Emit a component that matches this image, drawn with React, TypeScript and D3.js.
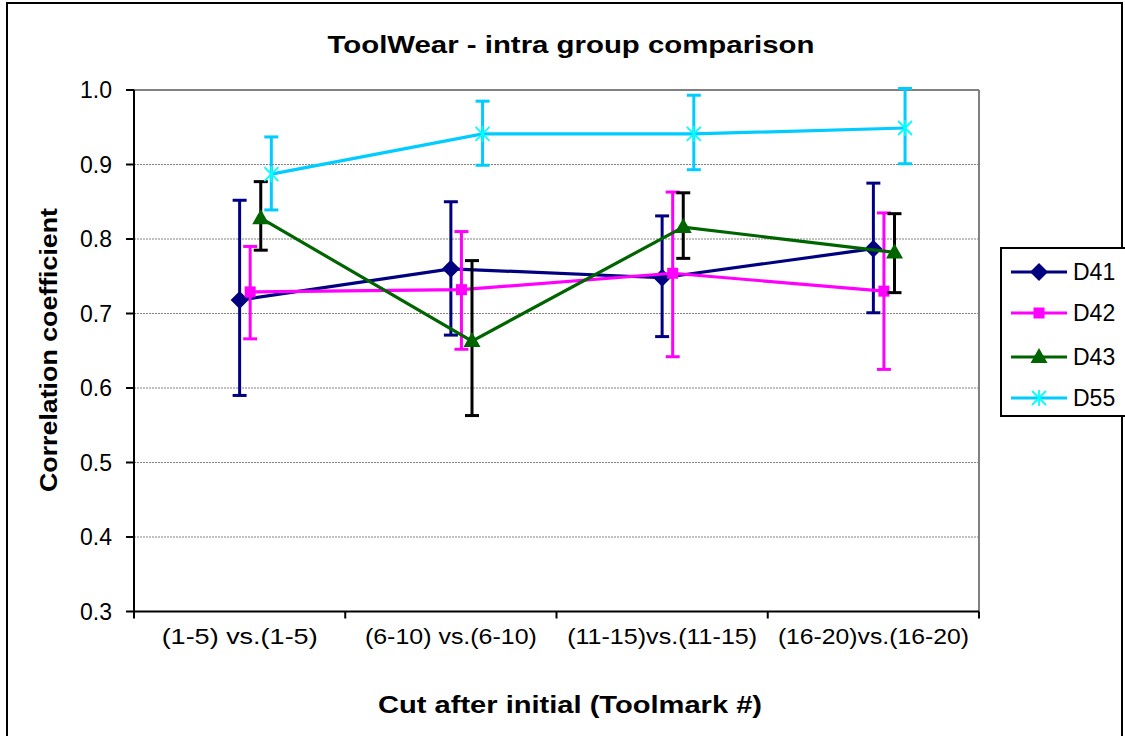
import React from "react";
import * as d3 from "d3";

const categories = ["(1-5) vs.(1-5)", "(6-10) vs.(6-10)", "(11-15)vs.(11-15)", "(16-20)vs.(16-20)"];
const seriesNames = ["D41", "D42", "D43", "D55"];
const d41 = [0.718, 0.76, 0.748, 0.787];
const d41Lo = [0.59, 0.671, 0.669, 0.701];
const d41Hi = [0.852, 0.85, 0.831, 0.875];
const d42 = [0.729, 0.732, 0.754, 0.73];
const d42Lo = [0.666, 0.652, 0.642, 0.625];
const d42Hi = [0.79, 0.81, 0.863, 0.835];
const d43 = [0.828, 0.663, 0.816, 0.782];
const d43Lo = [0.785, 0.563, 0.774, 0.728];
const d43Hi = [0.877, 0.771, 0.862, 0.834];
const d55 = [0.887, 0.941, 0.941, 0.949];
const d55Lo = [0.839, 0.899, 0.893, 0.901];
const d55Hi = [0.937, 0.985, 0.993, 1.002];
const yTicks = [0.3, 0.4, 0.5, 0.6, 0.7, 0.8, 0.9, 1.0];

const series = [
  { name: seriesNames[0], v: d41, lo: d41Lo, hi: d41Hi, color: "#000080", err: "#000080", marker: "diamond", mcolor: "#000080" },
  { name: seriesNames[1], v: d42, lo: d42Lo, hi: d42Hi, color: "#FF00FF", err: "#FF00FF", marker: "square", mcolor: "#FF00FF" },
  { name: seriesNames[2], v: d43, lo: d43Lo, hi: d43Hi, color: "#006400", err: "#000000", marker: "triangle", mcolor: "#006400" },
  { name: seriesNames[3], v: d55, lo: d55Lo, hi: d55Hi, color: "#00CCFF", err: "#00CCFF", marker: "star", mcolor: "#00FFFF" },
];

const FONT = "'Liberation Sans', Arial, Helvetica, sans-serif";

function Marker({ type, x, y, color }: { type: string; x: number; y: number; color: string }) {
  if (type === "diamond") {
    const s = 9;
    return <path d={`M${x},${y - s}L${x + s},${y}L${x},${y + s}L${x - s},${y}Z`} fill={color} />;
  }
  if (type === "square") {
    const s = 5.5;
    return <rect x={x - s} y={y - s} width={2 * s} height={2 * s} fill={color} />;
  }
  if (type === "triangle") {
    const w = 8.5, h = 15;
    return <path d={`M${x},${y - h * 0.6}L${x + w},${y + h * 0.4}L${x - w},${y + h * 0.4}Z`} fill={color} />;
  }
  const s = 7;
  return (
    <g stroke={color} strokeWidth={1.8}>
      <line x1={x - s} y1={y - s} x2={x + s} y2={y + s} />
      <line x1={x - s} y1={y + s} x2={x + s} y2={y - s} />
      <line x1={x} y1={y - s - 1} x2={x} y2={y + s + 1} />
    </g>
  );
}

export default function App() {
  const W = 1125, H = 736;
  const left = 134, right = 979, top = 90, bottom = 611.5;
  const x = d3.scaleLinear().domain([0, categories.length]).range([left, right]);
  const y = d3.scaleLinear().domain([0.3, 1.0]).range([bottom, top]);
  const off = 0.05;
  const px = (i: number, s: number) => x(i + 0.5 + s * off);
  const line = d3.line<[number, number]>().x((d) => d[0]).y((d) => d[1]);
  const labelWidths = [156, 172, 190, 191];

  return (
    <svg width={W} height={H} style={{ position: "absolute", left: 0, top: 0, background: "#fff" }} fontFamily={FONT}>
      <rect x={0} y={0} width={W} height={H} fill="#fff" />
      <rect x={7} y={3} width={1115} height={800} fill="none" stroke="#000" strokeWidth={2} />
      {yTicks.slice(1, -1).map((t) => (
        <line key={t} x1={left} x2={right} y1={y(t)} y2={y(t)} stroke="#808080" strokeWidth={1} strokeDasharray="2,1" />
      ))}
      <line x1={left} x2={right} y1={top} y2={top} stroke="#808080" strokeWidth={2} />
      <line x1={right} x2={right} y1={top} y2={bottom} stroke="#808080" strokeWidth={2} />
      <line x1={left} x2={left} y1={top} y2={bottom} stroke="#000" strokeWidth={2} />
      <line x1={left} x2={right} y1={bottom} y2={bottom} stroke="#000" strokeWidth={2} />
      {yTicks.map((t) => (
        <g key={t}>
          <line x1={left - 8} x2={left} y1={y(t)} y2={y(t)} stroke="#000" strokeWidth={2} />
          <text x={112} y={y(t) + 8} textAnchor="end" fontSize={23} fill="#000">
            {t.toFixed(1)}
          </text>
        </g>
      ))}
      {d3.range(categories.length + 1).map((i) => (
        <line key={i} x1={x(i)} x2={x(i)} y1={bottom} y2={bottom + 7} stroke="#000" strokeWidth={2} />
      ))}
      {categories.map((c, i) => (
        <text key={c} x={x(i + 0.5)} y={644} textAnchor="middle" fontSize={22} fill="#000" textLength={labelWidths[i]} lengthAdjust="spacingAndGlyphs">
          {c}
        </text>
      ))}
      {series.map((s, si) => (
        <g key={s.name}>
          <path d={line(s.v.map((v, i) => [px(i, si), y(v)] as [number, number])) || ""} fill="none" stroke={s.color} strokeWidth={3.2} />
          {s.v.map((v, i) => (
            <g key={i} stroke={s.err} strokeWidth={3}>
              <line x1={px(i, si)} x2={px(i, si)} y1={y(s.lo[i])} y2={y(s.hi[i])} />
              <line x1={px(i, si) - 7} x2={px(i, si) + 7} y1={y(s.lo[i])} y2={y(s.lo[i])} />
              <line x1={px(i, si) - 7} x2={px(i, si) + 7} y1={y(s.hi[i])} y2={y(s.hi[i])} />
            </g>
          ))}
          {s.v.map((v, i) => (
            <Marker key={"m" + i} type={s.marker} x={px(i, si)} y={y(v)} color={s.mcolor} />
          ))}
        </g>
      ))}
      <text x={571} y={53} textAnchor="middle" fontSize={24} fontWeight="bold" fill="#000" textLength={487} lengthAdjust="spacingAndGlyphs">
        ToolWear - intra group comparison
      </text>
      <text x={570} y={713} textAnchor="middle" fontSize={23} fontWeight="bold" fill="#000" textLength={384} lengthAdjust="spacingAndGlyphs">
        Cut after initial (Toolmark #)
      </text>
      <text transform="translate(57,350) rotate(-90)" textAnchor="middle" fontSize={23} fontWeight="bold" fill="#000" textLength={284} lengthAdjust="spacingAndGlyphs">
        Correlation coefficient
      </text>
      <rect x={1001} y={248} width={140} height={168} fill="#fff" stroke="#000" strokeWidth={2} />
      {series.map((s, si) => {
        const ly = [272, 313, 357, 398][si];
        return (
          <g key={"l" + s.name}>
            <line x1={1011} x2={1067} y1={ly} y2={ly} stroke={s.color} strokeWidth={3.2} />
            <Marker type={s.marker} x={1039} y={ly} color={s.mcolor} />
            <text x={1073} y={ly + 8} fontSize={23} fill="#000">
              {s.name}
            </text>
          </g>
        );
      })}
    </svg>
  );
}
